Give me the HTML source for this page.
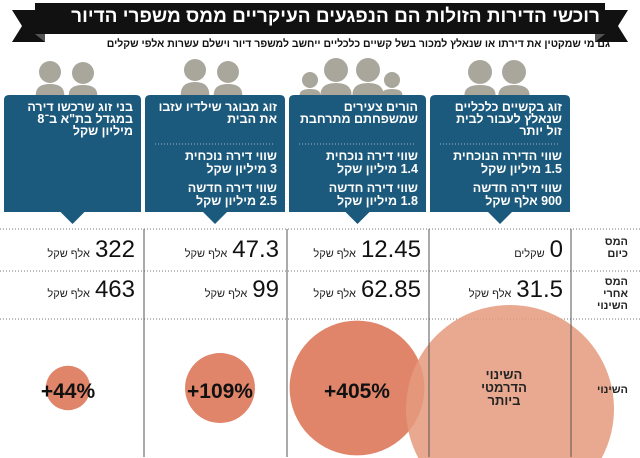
<!DOCTYPE html>
<html><head><meta charset="utf-8"><style>
html,body{margin:0;background:#fff;width:640px;height:458px;overflow:hidden;}
#wrap{position:relative;width:640px;height:458px;overflow:hidden;font-family:"Liberation Sans","Noto Sans CJK SC",sans-serif;}
.t{position:absolute;direction:rtl;text-align:right;white-space:nowrap;}
.box{color:#fff;font-weight:bold;font-size:12.5px;line-height:12px;}
.num{font-family:"Liberation Sans Narrow","Liberation Sans",sans-serif;font-size:24px;color:#111;}
.unit{font-size:11px;color:#222;margin-right:5px;}
.lbl{font-weight:bold;font-size:11px;line-height:12px;color:#222;}
.pct{position:absolute;font-weight:bold;font-size:21px;color:#111;transform:translate(-50%,-50%);white-space:nowrap;}
</style></head><body>
<div id="wrap">
<svg id="svg" width="640" height="458" viewBox="0 0 640 458" style="position:absolute;left:0;top:0;overflow:hidden">
  <polygon points="12,10 45,10 45,42 12,42 22,26" fill="#111"/>
  <polygon points="628,10 595,10 595,42 628,42 618,26" fill="#111"/>
  <polygon points="35,34 45,34 45,42" fill="#555"/>
  <polygon points="605,34 595,34 595,42" fill="#555"/>
  <rect x="35" y="3" width="570" height="31" fill="#111"/>
  <g fill="#a9a79c" id="people"></g>
  <g id="boxes"></g>
  <g stroke="#777" stroke-width="1" stroke-dasharray="1,2">
    <line x1="0" y1="229" x2="640" y2="229"/><line x1="0" y1="271" x2="640" y2="271"/><line x1="0" y1="319" x2="640" y2="319"/>
  </g>
  <g id="circles"></g>
  <g stroke="#555" stroke-width="1">
    <line x1="144" y1="229" x2="144" y2="457"/><line x1="287" y1="229" x2="287" y2="457"/><line x1="429" y1="229" x2="429" y2="457"/><line x1="571" y1="229" x2="571" y2="457"/>
  </g>
</svg>
<div class="t" style="right:40px;top:6px;color:#fff;font-weight:bold;font-size:19px;">רוכשי הדירות הזולות הם הנפגעים העיקריים ממס משפרי הדיור</div>
<div class="t" style="right:30px;top:38px;color:#111;font-weight:bold;font-size:10.5px;">גם מי שמקטין את דירתו או שנאלץ למכור בשל קשיים כלכליים ייחשב למשפר דיור וישלם עשרות אלפי שקלים</div>
<div id="texts"></div>
<div class="t lbl" style="right:12px;top:236px;">המס<br>כיום</div>
<div class="t lbl" style="right:12px;top:276px;">המס<br>אחרי<br>השינוי</div>
<div class="t lbl" style="right:12px;top:384px;">השינוי</div>
<div class="t" style="left:468px;width:72px;top:368px;text-align:center;font-weight:bold;font-size:13px;line-height:13px;color:#222;">השינוי<br>הדרמטי<br>ביותר</div>
</div>
<script>
const categories=["בני זוג בתל אביב","זוג מבוגר","הורים צעירים","זוג בקשיים"];
const taxToday=["322","47.3","12.45","0"];
const taxTodayUnit=["אלף שקל","אלף שקל","אלף שקל","שקלים"];
const taxAfter=["463","99","62.85","31.5"];
const changePct=[44,109,405];
const colRight=[135,279,421,563];
const colCenter=[68,220,357];
const NS="http://www.w3.org/2000/svg";
const svg=document.getElementById('svg');
const texts=document.getElementById('texts');
function rScale(p){return 3.35*Math.sqrt(p);}
const boxX=[[4,141],[145,285],[289,426],[430,570]];
const boxTitles=[["בני זוג שרכשו דירה","במגדל בת\"א ב־8","מיליון שקל"],["זוג מבוגר שילדיו עזבו","את הבית"],["הורים צעירים","שמשפחתם מתרחבת"],["זוג בקשיים כלכליים","שנאלץ לעבור לבית","זול יותר"]];
const boxVals=[null,["שווי דירה נוכחית","<b>3 מיליון שקל</b>","שווי דירה חדשה","<b>2.5 מיליון שקל</b>"],["שווי דירה נוכחית","<b>1.4 מיליון שקל</b>","שווי דירה חדשה","<b>1.8 מיליון שקל</b>"],["שווי הדירה הנוכחית","<b>1.5 מיליון שקל</b>","שווי דירה חדשה","<b>900 אלף שקל</b>"]];
const bg=document.getElementById('boxes');
boxX.forEach((b,i)=>{
  const [x1,x2]=b,cx=(x1+x2)/2;
  const p=document.createElementNS(NS,'path');
  p.setAttribute('d',`M${x1+5},95 H${x2-5} Q${x2},95 ${x2},100 V212 H${cx+12} L${cx},224 L${cx-12},212 H${x1} V100 Q${x1},95 ${x1+5},95 Z`);
  p.setAttribute('fill','#1c5a7d');
  
  
  bg.appendChild(p);
  const d=document.createElement('div');
  d.className='t box';
  
  
  d.style.right=(640-x2+8)+'px';d.style.top='101px';
  d.innerHTML=boxTitles[i].join('<br>');
  texts.appendChild(d);
  if(boxVals[i]){
    const l=document.createElementNS(NS,'line');
    l.setAttribute('x1',x1+10);l.setAttribute('x2',x2-10);l.setAttribute('y1',144);l.setAttribute('y2',144);
    l.setAttribute('stroke','#9bb5c6');l.setAttribute('stroke-dasharray','1,2');
    
    
    bg.appendChild(l);
    const v=document.createElement('div');
    v.className='t box';
    
    
    v.style.right=(640-x2+8)+'px';v.style.top='150px';v.style.lineHeight='13px';
    v.innerHTML=boxVals[i][0]+'<br>'+boxVals[i][1]+'<div style="height:6px"></div>'+boxVals[i][2]+'<br>'+boxVals[i][3];
    texts.appendChild(v);
  }
});
const ppl=document.getElementById('people');
const heads=[[50,72,11],[83,73,11],[195,70,11],[228,72,11],[310,80,8],[336,70,12],[368,70,12],[392,80,8],[480,72,12],[514,72,12]];
heads.forEach(h=>{
  const c=document.createElementNS(NS,'circle');c.setAttribute('cx',h[0]);c.setAttribute('cy',h[1]);c.setAttribute('r',h[2]);
  
  
  ppl.appendChild(c);
  const s=document.createElementNS(NS,'path');
  const w=h[2]*1.3,top=h[1]+h[2]+1;
  s.setAttribute('d',`M${h[0]-w},95 Q${h[0]-w},${top} ${h[0]},${top} Q${h[0]+w},${top} ${h[0]+w},95 Z`);
  
  
  ppl.appendChild(s);
});
function addNum(row,i,val,unit,y){
  const d=document.createElement('div');d.className='t';
  
  
  d.style.right=(640-colRight[i])+'px';d.style.top=y+'px';
  d.innerHTML='<span class="num">'+val+'</span><span class="unit">'+unit+'</span>';
  texts.appendChild(d);
}
taxToday.forEach((v,i)=>addNum('tax-today',i,v,taxTodayUnit[i],236));
taxAfter.forEach((v,i)=>addNum('tax-after',i,v,'אלף שקל',276));
const cg=document.getElementById('circles');
const bcx=510,bcy=409,br=104,by=458;
const bdx=Math.sqrt(br*br-(by-bcy)*(by-bcy));
const big=document.createElementNS(NS,'path');
big.setAttribute('d',`M${bcx-bdx},${by} A${br} ${br} 0 1 1 ${bcx+bdx},${by} Z`);
big.setAttribute('fill','#e49a7c');big.setAttribute('fill-opacity','0.85');


changePct.forEach((p,i)=>{
  const c=document.createElementNS(NS,'circle');
  c.setAttribute('cx',colCenter[i]);c.setAttribute('cy',388);c.setAttribute('r',rScale(p));c.setAttribute('fill','#e0856a');
  
  
  cg.appendChild(c);
  const t=document.createElement('div');t.className='pct';
  
  
  t.style.left=colCenter[i]+'px';t.style.top='392px';t.textContent='+'+p+'%';
  texts.appendChild(t);
});
cg.appendChild(big);
</script>
</body></html>
